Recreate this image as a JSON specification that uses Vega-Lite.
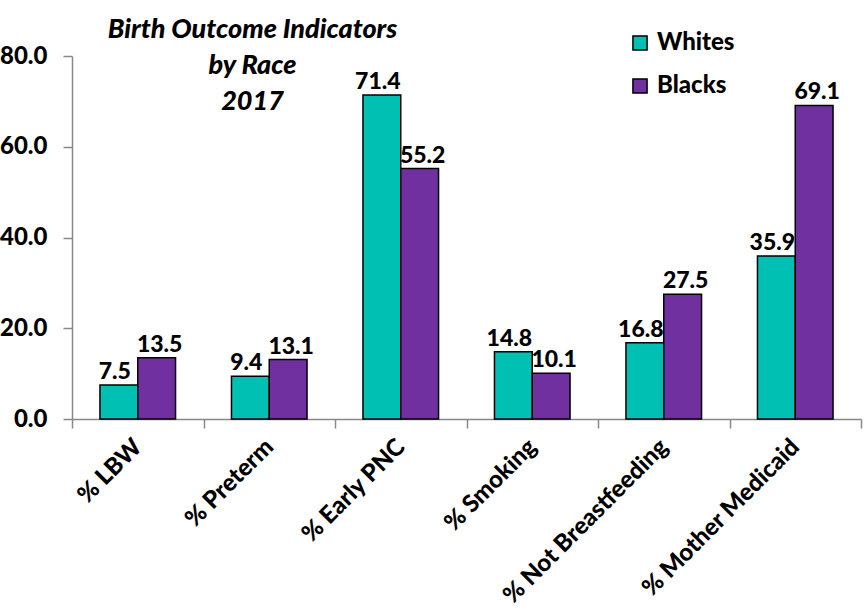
{
  "$schema": "https://vega.github.io/schema/vega-lite/v6.json",
  "autosize": "none",
  "width": 789,
  "height": 363,
  "padding": {"left": 72, "top": 56, "right": 4, "bottom": 196},
  "background": "white",
  "config": {
    "font": "Lato",
    "view": {"stroke": null}
  },
  "title": {
    "text": ["Birth Outcome Indicators", "by Race", "2017"],
    "fontSize": 27,
    "fontWeight": 900,
    "fontStyle": "italic",
    "lineHeight": 36,
    "color": "black",
    "anchor": "middle",
    "frame": "group",
    "dx": -214,
    "dy": 89
  },
  "data": {
    "values": [
      {"indicator": "% LBW", "race": "Whites", "value": 7.5},
      {"indicator": "% LBW", "race": "Blacks", "value": 13.5},
      {"indicator": "% Preterm", "race": "Whites", "value": 9.4},
      {"indicator": "% Preterm", "race": "Blacks", "value": 13.1},
      {"indicator": "% Early PNC", "race": "Whites", "value": 71.4},
      {"indicator": "% Early PNC", "race": "Blacks", "value": 55.2},
      {"indicator": "% Smoking", "race": "Whites", "value": 14.8},
      {"indicator": "% Smoking", "race": "Blacks", "value": 10.1},
      {"indicator": "% Not Breastfeeding", "race": "Whites", "value": 16.8},
      {"indicator": "% Not Breastfeeding", "race": "Blacks", "value": 27.5},
      {"indicator": "% Mother Medicaid", "race": "Whites", "value": 35.9},
      {"indicator": "% Mother Medicaid", "race": "Blacks", "value": 69.1}
    ]
  },
  "encoding": {
    "x": {
      "field": "indicator",
      "type": "nominal",
      "sort": null,
      "title": null,
      "scale": {"paddingInner": 0, "paddingOuter": 0},
      "axis": {
        "labelAngle": -45,
        "labelAlign": "right",
        "labelBaseline": "middle",
        "labelFontSize": 24,
        "labelFontWeight": 900,
        "labelColor": "black",
        "labelPadding": 15,
        "labelLimit": 400,
        "tickBand": "extent",
        "tickSize": 9,
        "tickColor": "#888888",
        "domainColor": "#888888",
        "domainWidth": 1.5,
        "tickWidth": 1.5
      }
    },
    "xOffset": {
      "field": "race",
      "type": "nominal",
      "sort": ["Whites", "Blacks"],
      "scale": {"paddingInner": 0, "paddingOuter": 0.74}
    },
    "y": {
      "field": "value",
      "type": "quantitative",
      "title": null,
      "scale": {"domain": [0, 80], "nice": false},
      "axis": {
        "values": [0, 20, 40, 60, 80],
        "format": ".1f",
        "grid": false,
        "labelFontSize": 24,
        "labelFontWeight": 900,
        "labelColor": "black",
        "labelPadding": 16,
        "tickSize": 9,
        "tickColor": "#888888",
        "domainColor": "#888888",
        "domainWidth": 1.5,
        "tickWidth": 1.5
      }
    }
  },
  "layer": [
    {
      "mark": {"type": "bar", "stroke": "black", "strokeWidth": 1.5},
      "encoding": {
        "color": {
          "field": "race",
          "type": "nominal",
          "sort": ["Whites", "Blacks"],
          "scale": {"domain": ["Whites", "Blacks"], "range": ["#00BFB3", "#7030A0"]},
          "legend": {
            "title": null,
            "orient": "none",
            "legendX": 556,
            "legendY": -25,
            "symbolType": "square",
            "symbolSize": 200,
            "symbolStrokeColor": "black",
            "symbolStrokeWidth": 1.5,
            "symbolOpacity": 1,
            "labelFontSize": 24,
            "labelFontWeight": 900,
            "labelColor": "black",
            "labelOffset": 5,
            "rowPadding": 19
          }
        }
      }
    },
    {
      "transform": [{"filter": "datum.race === 'Whites'"}],
      "mark": {"type": "text", "fontSize": 23, "fontWeight": 900, "baseline": "alphabetic", "dy": -6, "dx": -4, "color": "black"},
      "encoding": {
        "text": {"field": "value", "type": "quantitative", "format": ".1f"}
      }
    },
    {
      "transform": [{"filter": "datum.race === 'Blacks'"}],
      "mark": {"type": "text", "fontSize": 23, "fontWeight": 900, "baseline": "alphabetic", "dy": -6, "dx": 3, "color": "black"},
      "encoding": {
        "text": {"field": "value", "type": "quantitative", "format": ".1f"}
      }
    }
  ]
}
